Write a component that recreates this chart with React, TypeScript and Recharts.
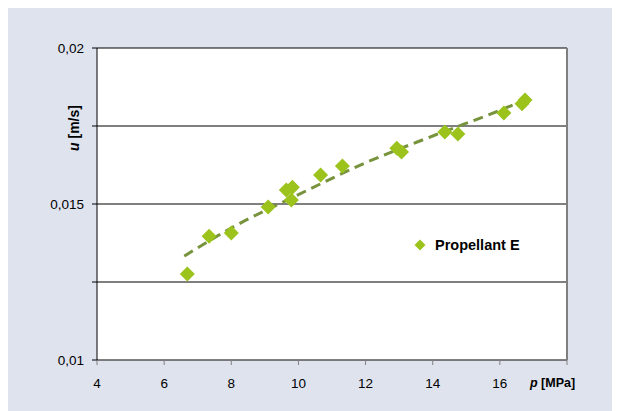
import React from 'react';
import {
  ComposedChart,
  Scatter,
  Line,
  XAxis,
  YAxis,
  CartesianGrid,
  ReferenceLine,
  Legend,
} from 'recharts';

// Measured burning-rate points (p in MPa, u in m/s)
const pressure = [6.69, 7.34, 8.0, 9.1, 9.64, 9.82, 9.79, 10.66, 11.31, 12.93, 13.07, 14.36, 14.75, 16.12, 16.66, 16.75];
const velocity = [0.01276, 0.01397, 0.01407, 0.0149, 0.01545, 0.01554, 0.01513, 0.01593, 0.01622, 0.01679, 0.01667, 0.01731, 0.01724, 0.01792, 0.01821, 0.01833];

// Trend line
const trendPressure = [6.6, 8, 10, 12, 14, 16, 16.85];
const trendVelocity = [0.01333, 0.01423, 0.0153, 0.01632, 0.01718, 0.018, 0.01838];

const xTicks = [4, 6, 8, 10, 12, 14, 16, 18];
const yTicks = [0.01, 0.0125, 0.015, 0.0175, 0.02];
const yTickLabels: Record<string, string> = { '0.01': '0,01', '0.015': '0,015', '0.02': '0,02' };

const seriesName = 'Propellant E';

const points = pressure.map((p, i) => ({ p, u: velocity[i] }));
const trend = trendPressure.map((p, i) => ({ p, u: trendVelocity[i] }));

const MARKER = '#9bc31c';
const TREND = '#77933c';
const FONT = '"Liberation Sans", Arial, sans-serif';

const Diamond = (props: any) => {
  const { cx, cy } = props;
  const r = 7.5;
  return (
    <polygon
      points={`${cx},${cy - r} ${cx + r},${cy} ${cx},${cy + r} ${cx - r},${cy}`}
      fill={MARKER}
    />
  );
};

const renderLegend = () => (
  <div style={{ display: 'flex', alignItems: 'center', height: 18, fontFamily: FONT }}>
    <svg width={12} height={12}>
      <polygon points="6,0.5 11.5,6 6,11.5 0.5,6" fill={MARKER} />
    </svg>
    <span style={{ marginLeft: 9, fontWeight: 'bold', fontSize: 14.5, color: '#000' }}>{seriesName}</span>
  </div>
);

export default function App() {
  return (
    <div style={{ width: 612, height: 403, background: '#dfe3ee' }}>
      <ComposedChart
        width={612}
        height={403}
        margin={{ top: 40, right: 53, left: 29, bottom: 3 }}
      >
        <CartesianGrid vertical={false} stroke="#000" fill="#ffffff" />
        <XAxis
          type="number"
          dataKey="p"
          domain={[4, 18]}
          ticks={xTicks}
          height={30}
          stroke="#808080"
          tickSize={5}
          tickMargin={13}
          tick={{ fill: '#000', fontSize: 13.5, fontFamily: FONT }}
          tickFormatter={(v: number) => (v === 18 ? '' : String(v))}
          label={{
            content: () => (
              <text x={522} y={375} dominantBaseline="central" fontFamily={FONT} fontSize={12.5} fontWeight="bold" fill="#000">
                <tspan fontStyle="italic">p</tspan> [MPa]
              </text>
            ),
          }}
        />
        <YAxis
          type="number"
          dataKey="u"
          domain={[0.01, 0.02]}
          ticks={yTicks}
          width={60}
          stroke="#000"
          tickSize={5}
          tickMargin={8}
          tick={{ fill: '#000', fontSize: 13.5, fontFamily: FONT }}
          tickFormatter={(v: number) => yTickLabels[String(v)] ?? ''}
          label={{
            content: () => (
              <text
                x={66}
                y={120}
                transform="rotate(-90 66 120)"
                textAnchor="middle"
                dominantBaseline="central"
                fontFamily={FONT}
                fontSize={14}
                fontWeight="bold"
                fill="#000"
              >
                <tspan fontStyle="italic">u</tspan> [m/s]
              </text>
            ),
          }}
        />
        <ReferenceLine x={18} stroke="#7f7f7f" strokeWidth={2} />
        <Scatter
          name={seriesName}
          data={points}
          dataKey="u"
          shape={Diamond}
          isAnimationActive={false}
        />
        <Line
          data={trend}
          dataKey="u"
          type="monotone"
          stroke={TREND}
          strokeWidth={3}
          strokeDasharray="10 6"
          dot={false}
          activeDot={false}
          legendType="none"
          isAnimationActive={false}
        />
        <Legend
          content={renderLegend}
          wrapperStyle={{ position: 'absolute', left: 406, top: 228, width: 'auto', height: 18 }}
        />
      </ComposedChart>
    </div>
  );
}
